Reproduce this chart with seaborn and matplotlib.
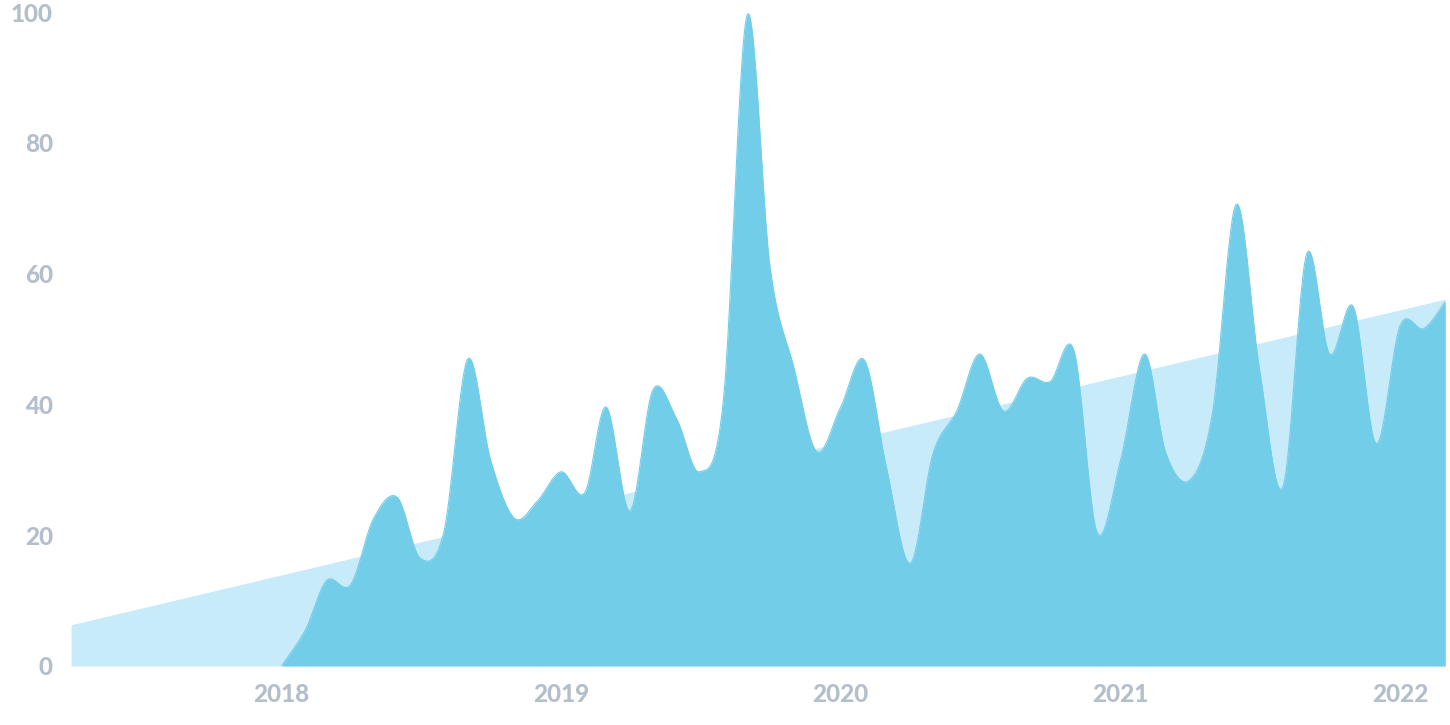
import numpy as np
import pandas as pd
import matplotlib
matplotlib.use('Agg')
import matplotlib.pyplot as plt
import matplotlib.dates as mdates
import seaborn as sns

# monthly values, Jan 2018 .. Mar 2022
months = pd.date_range('2018-01-01', '2022-03-01', freq='MS')
values = [
    0, 5.5, 13.1, 12.4, 22.5, 25.8, 16.5, 20.5, 46.9, 31.5, 22.6, 25.2,      # 2018
    29.7, 26.5, 39.6, 23.7, 42.2, 37.8, 29.7, 40.5, 99.5, 61.0, 45.7, 32.8,  # 2019
    39.5, 46.8, 30.4, 15.7, 32.5, 39.0, 47.7, 39.0, 44.0, 43.5, 48.2, 20.5,  # 2020
    31.5, 47.7, 32.6, 28.4, 38.7, 70.6, 45.7, 27.4, 63.0, 47.7, 54.9, 34.0,  # 2021
    52.0, 51.6, 55.7,                                                        # 2022
]

# trend line (light area)
trend_dates = pd.to_datetime(['2017-04-01', '2022-03-01'])
trend_vals = [6.3, 56.1]

year_ticks = pd.to_datetime(['2018-01-01', '2019-01-01', '2020-01-01', '2021-01-01', '2022-01-01'])
year_labels = ['2018', '2019', '2020', '2021', '2022']
y_ticks = [0, 20, 40, 60, 80, 100]

main_color = '#72cde9'
light_color = '#c7ebf8'
text_color = '#b4bfcc'


def smooth(x, y, n=24):
    # catmull-rom curve through the points (just for drawing)
    x = np.asarray(x, float)
    y = np.asarray(y, float)
    px = np.concatenate([[x[0]], x, [x[-1]]])
    py = np.concatenate([[y[0]], y, [y[-1]]])
    xs, ys = [], []
    t = np.linspace(0, 1, n, endpoint=False)
    h00 = 2*t**3 - 3*t**2 + 1
    h10 = t**3 - 2*t**2 + t
    h01 = -2*t**3 + 3*t**2
    h11 = t**3 - t**2
    for i in range(1, len(px) - 2):
        mx0 = (px[i+1] - px[i-1]) / 2
        mx1 = (px[i+2] - px[i]) / 2
        my0 = (py[i+1] - py[i-1]) / 2
        my1 = (py[i+2] - py[i]) / 2
        xs.append(h00*px[i] + h10*mx0 + h01*px[i+1] + h11*mx1)
        ys.append(h00*py[i] + h10*my0 + h01*py[i+1] + h11*my1)
    xs.append([x[-1]])
    ys.append([y[-1]])
    return np.concatenate(xs), np.clip(np.concatenate(ys), 0, None)


sns.set_style('white')
plt.rcParams['font.family'] = ['Lato', 'DejaVu Sans']

fig = plt.figure(figsize=(14.5, 7.25), dpi=100)
ax = fig.add_axes([0.049, 0.0814, 0.9477, 0.902])

tx = mdates.date2num(trend_dates)
ax.fill_between(tx, 0, trend_vals, color=light_color, linewidth=0, zorder=1)

mx = mdates.date2num(months)
sx, sy = smooth(mx, values)
ax.fill_between(sx, 0, sy, color=main_color, linewidth=0, zorder=2)
sns.lineplot(x=sx, y=sy, color=main_color, linewidth=0.8, ax=ax, zorder=3, sort=False)

ax.set_xlim(tx[0], mx[-1])
ax.set_ylim(0, 100)
ax.set_xticks(mdates.date2num(year_ticks))
ax.set_xticklabels(year_labels)
ax.set_yticks(y_ticks)
ax.set_yticklabels([str(v) for v in y_ticks])
ax.tick_params(axis='x', length=0, pad=12, labelsize=17.5, labelcolor=text_color)
ax.tick_params(axis='y', length=0, pad=13, labelsize=17.5, labelcolor=text_color)
for lab in ax.get_xticklabels() + ax.get_yticklabels():
    lab.set_fontweight('black')
sns.despine(ax=ax, left=True, bottom=True)
ax.grid(False)
ax.set_xlabel('')
ax.set_ylabel('')

fig.savefig('out.png', dpi=100)
